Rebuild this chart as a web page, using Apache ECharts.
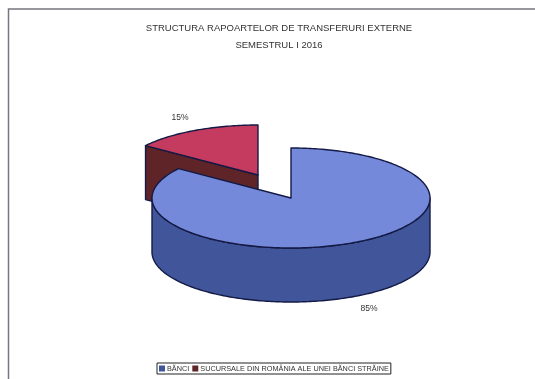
<!DOCTYPE html>
<html>
<head>
<meta charset="utf-8">
<style>html,body{margin:0;padding:0;background:#fff}#chart{width:535px;height:379px}</style>
<script src="https://cdn.jsdelivr.net/npm/echarts@6/dist/echarts.min.js"></script>
</head>
<body>
<div id="chart"></div>
<script>
// Report structure, first half of 2016 (shares in percent)
const titleLines = ['STRUCTURA RAPOARTELOR DE TRANSFERURI EXTERNE', 'SEMESTRUL I 2016'];
const categories = ['BĂNCI', 'SUCURSALE DIN ROMÂNIA ALE UNEI BĂNCI STRĂINE'];
const shares = [85, 15];

const topColors = ['#7489da', '#c53b60'];
const sideColors = ['#41559a', '#5e2427'];
const outline = '#141a45';

// Projection of the tilted pie
const CX = 291, CY = 198, RX = 139, RY = 50, DEPTH = 54;
const EXPLODE = [[0, 0], [-33, -23]];
const LABEL_POS = [[369, 309], [180, 118]];
const total = shares.reduce((a, b) => a + b, 0);

function rimPoint(cx, cy, deg, dy) {
  const a = deg * Math.PI / 180;
  return [cx + RX * Math.sin(a), cy - RY * Math.cos(a) + (dy || 0)];
}

function renderSlice(params, api) {
  const i = params.seriesIndex;
  const value = api.value(0);
  const start = shares.slice(0, i).reduce((a, b) => a + b, 0) / total * 360;
  const end = start + value / total * 360;
  const cx = CX + EXPLODE[i][0], cy = CY + EXPLODE[i][1];
  const lineStyle = { stroke: outline, lineWidth: 1.4, lineJoin: 'round' };

  // Rim of the slice, one point per degree
  const rim = [];
  for (let d = start; d <= end + 1e-6; d += 1) rim.push(d);

  const children = [];

  // Outer wall: only the part of the rim facing the viewer (90..270 degrees)
  const front = rim.filter(d => d >= 90 && d <= 270);
  if (front.length > 1) {
    const wall = front.map(d => rimPoint(cx, cy, d));
    const lower = front.slice().reverse().map(d => rimPoint(cx, cy, d, DEPTH));
    children.push({
      type: 'polygon',
      shape: { points: wall.concat(lower) },
      style: Object.assign({ fill: sideColors[i] }, lineStyle)
    });
  }

  // Radial wall of a slice that opens towards the viewer
  if (start >= 270) {
    const p = rimPoint(cx, cy, start);
    children.push({
      type: 'polygon',
      shape: { points: [p, [cx, cy], [cx, cy + DEPTH], [p[0], p[1] + DEPTH]] },
      style: Object.assign({ fill: sideColors[i] }, lineStyle)
    });
  }

  // Top face
  children.push({
    type: 'polygon',
    shape: { points: [[cx, cy]].concat(rim.map(d => rimPoint(cx, cy, d))) },
    style: Object.assign({ fill: topColors[i] }, lineStyle)
  });

  children.push({
    type: 'text',
    style: {
      x: LABEL_POS[i][0], y: LABEL_POS[i][1],
      text: value + '%',
      fill: '#333', font: '8.5px "Liberation Sans"',
      align: 'center', verticalAlign: 'middle'
    }
  });

  return { type: 'group', children };
}

const chart = echarts.init(document.getElementById('chart'), null, { renderer: 'canvas' });
chart.setOption({
  animation: false,
  backgroundColor: '#ffffff',
  title: {
    text: titleLines.join('\n'),
    left: 274, top: 15, textAlign: 'center',
    textStyle: { fontFamily: 'Liberation Sans', fontSize: 9.5, fontWeight: 'normal', color: '#333', lineHeight: 17 }
  },
  legend: {
    left: 157, top: 363, width: 236, height: 14,
    padding: [2, 2], itemGap: 3, itemWidth: 6, itemHeight: 6,
    icon: 'rect', borderColor: '#222', borderWidth: 1,
    textStyle: { fontFamily: 'Liberation Sans', fontSize: 7.3, color: '#333', padding: [0, 0, 0, -3] }
  },
  graphic: [{
    type: 'polyline', silent: true,
    shape: { points: [[8.5, 379], [8.5, 9], [535, 9]] },
    style: { stroke: '#77757f', lineWidth: 1.5, fill: null }
  }],
  series: categories.map((name, i) => ({
    type: 'custom',
    name,
    coordinateSystem: 'none',
    renderItem: renderSlice,
    itemStyle: { color: sideColors[i] },
    data: [[shares[i]]],
    z: i === 0 ? 3 : 2
  }))
});
</script>
</body>
</html>
